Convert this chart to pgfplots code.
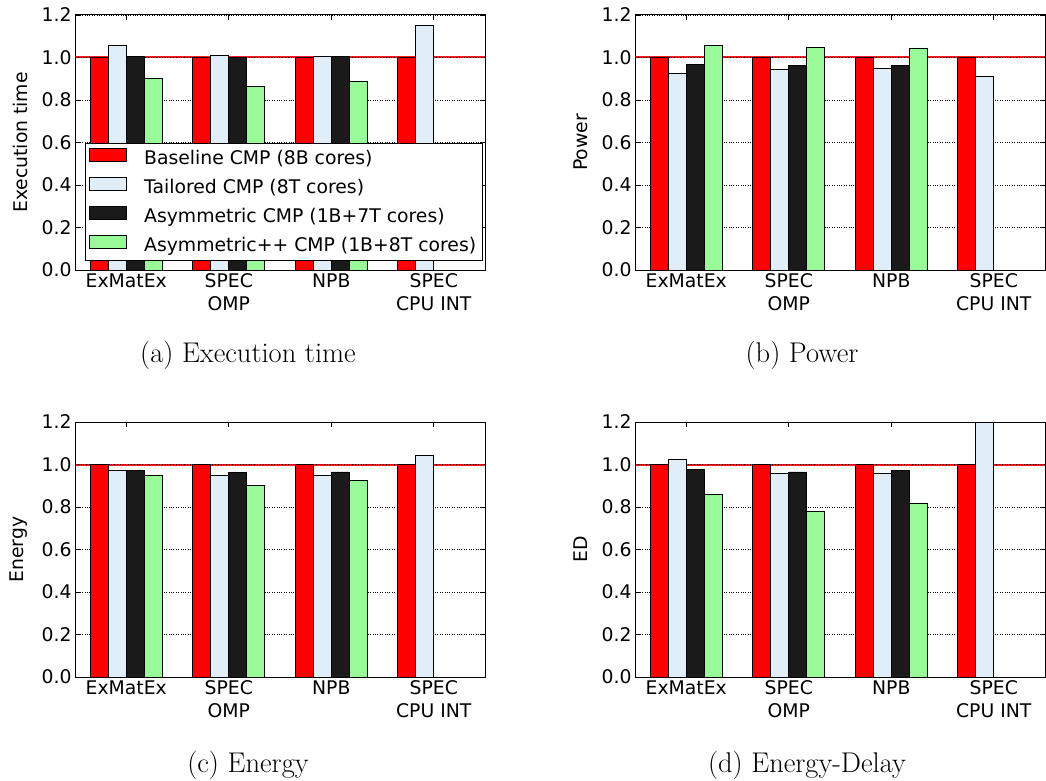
\documentclass[border=0pt]{standalone}
\usepackage{fontspec}
\usepackage{pgfplots}
\pgfplotsset{compat=1.18}
\newfontfamily\dejavu{DejaVu Sans}
\definecolor{cred}{RGB}{255,0,0}
\definecolor{cblue}{RGB}{224,238,250}
\definecolor{cblack}{RGB}{26,26,26}
\definecolor{cgreen}{RGB}{152,251,152}
\newcommand{\chartfont}{\dejavu\fontsize{18.8}{23.5}\selectfont}
\newcommand{\lgap}{\hspace*{15pt}}
\pgfplotsset{
  panel/.style={
    scale only axis, width=410pt, height=255pt,
    xmin=0, xmax=4, ymin=0, ymax=1.2,
    ytick={0,0.2,0.4,0.6,0.8,1.0,1.2},
    xtick={0.5,1.5,2.5,3.5},
    xticklabels={ExMatEx, SPEC\\OMP, NPB, SPEC\\CPU INT},
    xticklabel style={align=center, font=\chartfont},
    yticklabel style={font=\chartfont, /pgf/number format/fixed, /pgf/number format/fixed zerofill, /pgf/number format/precision=1},
    /pgf/number format/assume math mode=true,
    tick align=inside,
    major tick length=5pt,
    ymajorgrids, grid style={black, dotted, line width=0.8pt},
    axis line style={black, line width=1pt},
    every tick/.style={black, line width=0.8pt},
    label style={font=\chartfont},
    ylabel shift=7pt,
  },
  mybar/.style={ybar, bar width=0.175, draw=black, line width=0.8pt,
    legend image code/.code={\draw[##1,/tikz/.cd] (0pt,-3.4pt) rectangle (37pt,9.6pt);}},
  b1/.style={mybar, fill=cred, bar shift=-0.2625},
  b2/.style={mybar, fill=cblue, bar shift=-0.0875},
  b3/.style={mybar, fill=cblack, bar shift=0.0875},
  b4/.style={mybar, fill=cgreen, bar shift=0.2625},
  refline/.style={red, line width=2pt, opacity=0.9, forget plot},
  refdots/.style={black, dotted, line width=0.8pt, forget plot},
}
\begin{document}
\begin{tikzpicture}
\useasboundingbox (0pt,0pt) rectangle (1046pt,-781pt);
% (a)
\begin{axis}[panel, at={(75pt,-270pt)}, anchor=south west, ylabel={Execution time},
  legend style={at={(rel axis cs:0.0243,0.498)}, anchor=north west, font=\chartfont,
    draw=black, line width=0.8pt, fill=white, inner xsep=4pt, inner ysep=5pt,
    row sep=9pt, cells={anchor=west}},
  legend cell align=left]
\addplot[refline] coordinates {(0,1) (4,1)};
\addplot[refdots] coordinates {(0,1) (4,1)};
\addplot[b1] coordinates {(0.5,1) (1.5,1) (2.5,1) (3.5,1)};
\addplot[b2] coordinates {(0.5,1.055) (1.5,1.008) (2.5,1.003) (3.5,1.149)};
\addplot[b3] coordinates {(0.5,1.003) (1.5,1.002) (2.5,1.005)};
\addplot[b4] coordinates {(0.5,0.903) (1.5,0.862) (2.5,0.887)};
\legend{\lgap Baseline CMP (8B cores), \lgap Tailored CMP (8T cores), \lgap Asymmetric CMP (1B+7T cores), \lgap Asymmetric++ CMP (1B+8T cores)}
\end{axis}
% (b)
\begin{axis}[panel, at={(635pt,-270pt)}, anchor=south west, ylabel={Power}]
\addplot[refline] coordinates {(0,1) (4,1)};
\addplot[refdots] coordinates {(0,1) (4,1)};
\addplot[b1] coordinates {(0.5,1) (1.5,1) (2.5,1) (3.5,1)};
\addplot[b2] coordinates {(0.5,0.923) (1.5,0.942) (2.5,0.947) (3.5,0.909)};
\addplot[b3] coordinates {(0.5,0.969) (1.5,0.961) (2.5,0.961)};
\addplot[b4] coordinates {(0.5,1.055) (1.5,1.049) (2.5,1.045)};
\end{axis}
% (c)
\begin{axis}[panel, at={(75pt,-677pt)}, anchor=south west, ylabel={Energy}]
\addplot[refline] coordinates {(0,1) (4,1)};
\addplot[refdots] coordinates {(0,1) (4,1)};
\addplot[b1] coordinates {(0.5,1) (1.5,1) (2.5,1) (3.5,1)};
\addplot[b2] coordinates {(0.5,0.973) (1.5,0.948) (2.5,0.950) (3.5,1.044)};
\addplot[b3] coordinates {(0.5,0.972) (1.5,0.962) (2.5,0.965)};
\addplot[b4] coordinates {(0.5,0.951) (1.5,0.903) (2.5,0.926)};
\end{axis}
% (d)
\begin{axis}[panel, at={(635pt,-677pt)}, anchor=south west, ylabel={ED}]
\addplot[refline] coordinates {(0,1) (4,1)};
\addplot[refdots] coordinates {(0,1) (4,1)};
\addplot[b1] coordinates {(0.5,1) (1.5,1) (2.5,1) (3.5,1)};
\addplot[b2] coordinates {(0.5,1.024) (1.5,0.956) (2.5,0.956) (3.5,1.2)};
\addplot[b3] coordinates {(0.5,0.976) (1.5,0.965) (2.5,0.970)};
\addplot[b4] coordinates {(0.5,0.857) (1.5,0.777) (2.5,0.819)};
\end{axis}
\node[font=\fontsize{28.5}{32}\selectfont] at (248pt,-355pt) {(a) Execution time};
\node[font=\fontsize{28.5}{32}\selectfont] at (802pt,-355pt) {(b) Power};
\node[font=\fontsize{28.5}{32}\selectfont] at (248pt,-765pt) {(c) Energy};
\node[font=\fontsize{28.5}{32}\selectfont] at (807pt,-765pt) {(d) Energy-Delay};
\end{tikzpicture}
\end{document}
